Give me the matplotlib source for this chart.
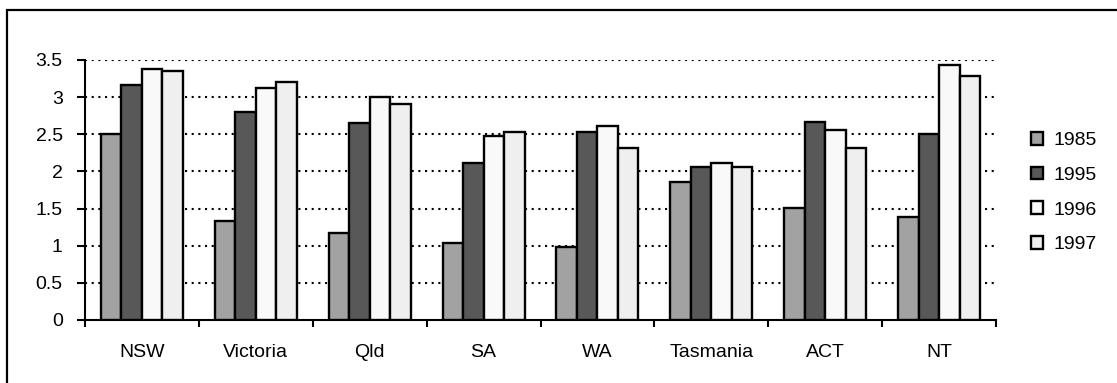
import numpy as np
import matplotlib
matplotlib.use('Agg')
import matplotlib.pyplot as plt
from matplotlib.patches import Rectangle

plt.rcParams['font.family'] = ['Liberation Sans', 'DejaVu Sans']

states = ['NSW', 'Victoria', 'Qld', 'SA', 'WA', 'Tasmania', 'ACT', 'NT']
years = ['1985', '1995', '1996', '1997']
v1985 = [2.50, 1.33, 1.17, 1.04, 0.98, 1.86, 1.51, 1.38]
v1995 = [3.17, 2.80, 2.65, 2.11, 2.53, 2.06, 2.66, 2.50]
v1996 = [3.38, 3.12, 3.00, 2.48, 2.61, 2.11, 2.56, 3.43]
v1997 = [3.35, 3.20, 2.91, 2.53, 2.31, 2.06, 2.31, 3.29]
yticks = [0, 0.5, 1, 1.5, 2, 2.5, 3, 3.5]

series = [v1985, v1995, v1996, v1997]
colors = ['#a2a2a2', '#585858', '#f9f9f9', '#efefef']
fs = 14

fig = plt.figure(figsize=(11.17, 3.83), dpi=100)
# outer chart frame
fig.patches.append(Rectangle((7/1117, -0.1), 1.2, 1.1 - 10/383,
                             transform=fig.transFigure, fill=False,
                             edgecolor='black', linewidth=1.6))
ax = fig.add_axes([85/1117, 1 - 320/383, (996 - 85)/1117, 260/383])

x = np.arange(len(states))
w = 0.18
for i, (vals, col, yr) in enumerate(zip(series, colors, years)):
    ax.bar(x + (i - 1.5) * w, vals, w, color=col, edgecolor='black',
           linewidth=1.7, label=yr, zorder=3)

ax.set_xlim(-0.5, len(states) - 0.5)
ax.set_ylim(0, 3.5)
ax.set_yticks(yticks)
ax.set_yticklabels(['0', '0.5', '1', '1.5', '2', '2.5', '3', '3.5'], fontsize=fs)
for t in yticks[1:]:
    ax.axhline(t, color='black', linestyle=(0, (1, 2.2)), linewidth=1.5, zorder=1)

ax.set_xticks(np.arange(len(states) + 1) - 0.5)
ax.set_xticklabels([])
ax.set_xticks(x, minor=True)
ax.set_xticklabels(states, minor=True, fontsize=fs)
ax.tick_params(axis='x', which='minor', length=0, pad=17)
ax.tick_params(axis='x', which='major', direction='out', length=5, width=1.5)
ax.tick_params(axis='y', direction='out', length=6, width=1.5, pad=10)

ax.spines['top'].set_visible(False)
ax.spines['right'].set_visible(False)
ax.spines['left'].set_linewidth(1.5)
ax.spines['bottom'].set_linewidth(1.5)

ax.legend(loc='center left', bbox_to_anchor=(1017/1117, 0.497),
          bbox_transform=fig.transFigure, frameon=False, fontsize=fs,
          handlelength=0.62, handleheight=0.62, handletextpad=0.55,
          labelspacing=0.9, borderpad=0.2)

fig.savefig('out.png', dpi=100)
